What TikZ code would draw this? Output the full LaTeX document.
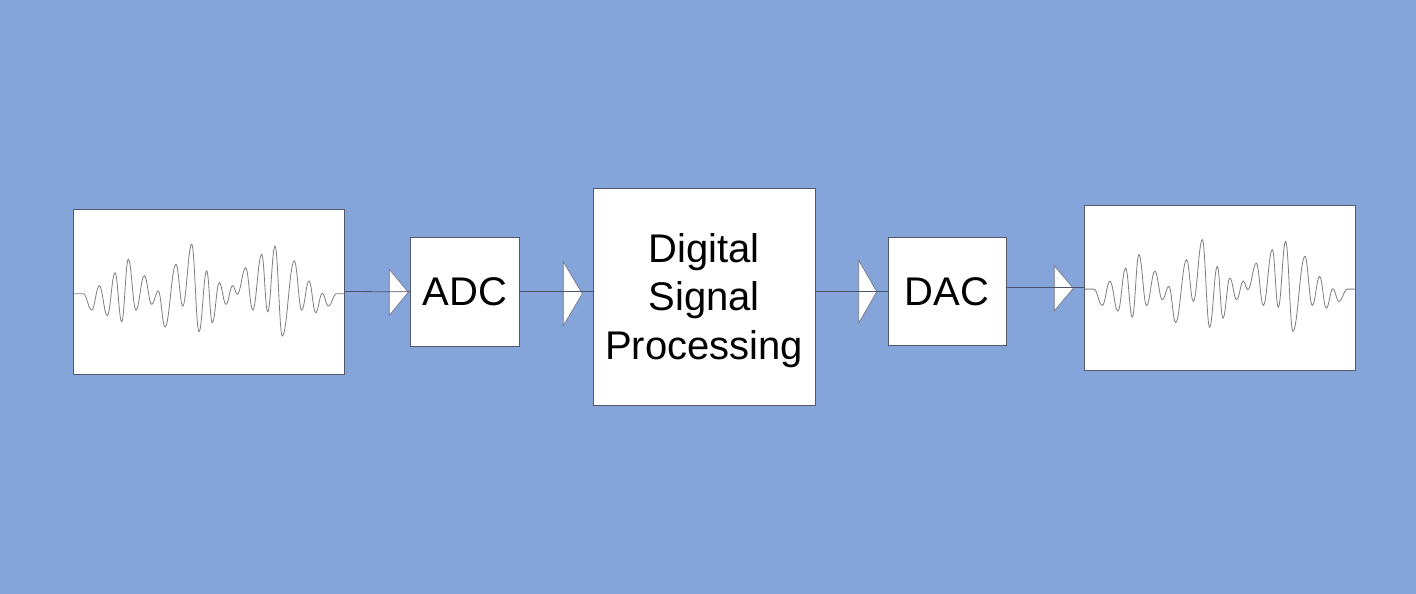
\documentclass[tikz,border=0pt]{standalone}
\usepackage{tikz}
\usepackage{xcolor}
\usepackage{fontspec}
\setmainfont{Liberation Sans}
\usetikzlibrary{shapes.geometric}

\definecolor{bgblue}{RGB}{133,165,218}
\definecolor{edgegray}{RGB}{80,88,105}
\definecolor{wavegray}{RGB}{125,125,125}
\definecolor{linkgray}{RGB}{75,85,105}

\tikzset{
    sigbox/.style={draw=edgegray, fill=white, line width=0.9pt, inner sep=0pt, outer sep=0pt},
    procbox/.style={sigbox, font=\fontsize{40}{48.3}\selectfont, align=center},
    tri/.style={isosceles triangle, isosceles triangle stretches, draw=edgegray!80, fill=white,
        line width=0.7pt, inner sep=0pt, outer sep=0pt, anchor=apex},
    wave/.style={draw=wavegray, line width=0.8pt},
    link/.style={draw=linkgray, line width=0.8pt}
}

\newcommand{\wavepath}{%
    -- (83.3,293.7)
    \foreach \x/\y [remember=\x as \px (initially 83.3), remember=\y as \py (initially 293.7)] in
        {91.7/310, 99.3/285.7, 107.3/315.7, 115/272.7, 121.7/321.7, 128.3/259.3,
        136/310, 144.3/275.7, 151.7/304.3, 158.3/291, 165/327, 176/264.3, 182.7/306,
        191.7/244.3, 199/331.7, 206.7/271, 212.3/322.7, 219.3/282.7, 226/304.3, 232.7/285.7,
        237.3/294.3, 245.7/267.7, 252.7/310, 261.7/254.3, 267.7/311.7, 275/246, 282.3/336,
        294.3/261, 301.7/310, 309/281, 315.7/312.7, 322.3/293.3, 328.3/306, 336.7/293.7}
        { .. controls ({\px+0.4*(\x-\px)},\py) and ({\x-0.4*(\x-\px)},\y) .. (\x,\y) }
    -- (344,293.7)}

\begin{document}
\begin{tikzpicture}[x=1pt, y=-1pt]
        \fill [bgblue] (0,0) rectangle (1416,594);
        \useasboundingbox (0,0) rectangle (1416,594);

        \node [sigbox, minimum width=270.3, minimum height=165] (insig) at (208.85,291.5) {};
        \node [procbox, minimum width=108.6, minimum height=108.3] (adc) at (465,291.85) {ADC};
        \node [sigbox, minimum width=221.7, minimum height=216.7] (dsp) at (704.15,296.65) {};
        \node [procbox, draw=none, fill=none] (dsptext) at ([yshift=-4pt]dsp.center) {Digital\\Signal\\Processing};
        \node [procbox, minimum width=117.7, minimum height=108.4] (dac) at (947.15,291.5) {DAC};
        \node [sigbox, minimum width=271, minimum height=164.7] (outsig) at (1219.8,287.65) {};

        \draw [wave] (73.7,293.7) \wavepath;
        \draw [wave, shift={(1010.6,-4.6)}] (73.7,293.7) \wavepath;

        \node [tri, minimum height=19, minimum width=46] (tria) at (408.3,292.3) {};
        \node [tri, minimum height=19, minimum width=64] (trib) at (582.3,293.7) {};
        \node [tri, minimum height=18, minimum width=63] (tric) at (876.7,291.7) {};
        \node [tri, minimum height=19, minimum width=45] (trid) at (1073.3,288.3) {};

        \draw [link] (insig.east) -- (adc.west);
        \draw [link] (adc.east) -- (adc.east -| dsp.west);
        \draw [link] (dac.west -| dsp.east) -- (dac.west);
        \draw [link] (outsig.west -| dac.east) -- (outsig.west);
    \end{tikzpicture}
\end{document}
